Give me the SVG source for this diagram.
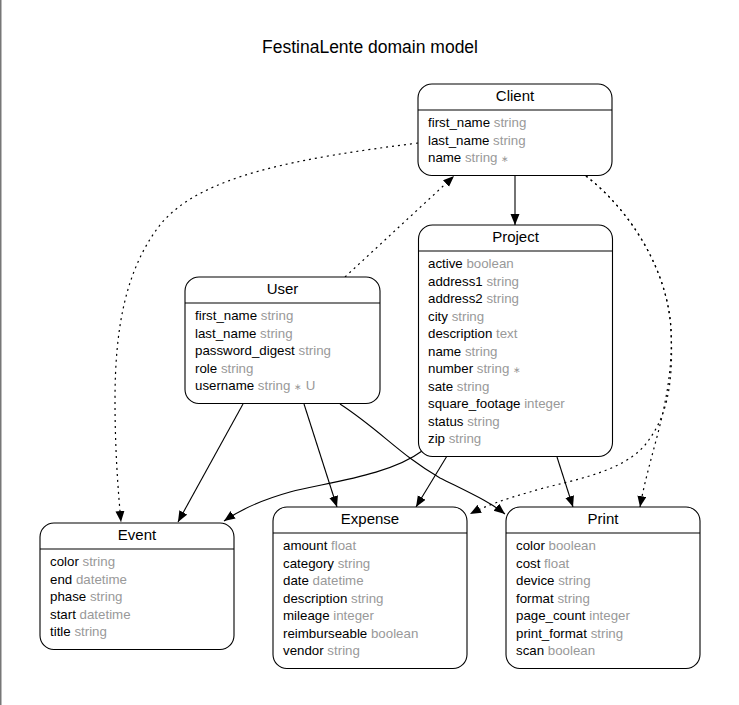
<svg xmlns="http://www.w3.org/2000/svg" width="739" height="705" viewBox="0 0 739 705">
<defs>
<style>
.box{fill:#fff;stroke:#000;stroke-width:1.1}
.hdr{stroke:#000;stroke-width:1.1}
.ttl{font-family:"Liberation Sans",Arial,sans-serif;font-size:15px;fill:#000;text-anchor:middle}
.f{font-family:"Liberation Sans",Arial,sans-serif;font-size:13.3px;fill:#000}
.t{fill:#999}
.s{font-size:9px}
.e{fill:none;stroke:#000;stroke-width:1.1}
.d{fill:none;stroke:#000;stroke-width:1.2;stroke-dasharray:2,4}
</style>
<marker id="a" markerUnits="userSpaceOnUse" markerWidth="12" markerHeight="10" refX="11" refY="4.5" orient="auto">
<path d="M0,0 L11,4.5 L0,9 z" fill="#000"/>
</marker>
</defs>
<rect width="739" height="705" fill="#fff"/>
<line x1="0.75" y1="0" x2="0.75" y2="705" stroke="#777" stroke-width="1.5"/>
<text x="370" y="53" font-family="Liberation Sans,Arial,sans-serif" font-size="17.5" text-anchor="middle" fill="#000">FestinaLente domain model</text>

<g id="connectors">
<path class="e" d="M515,176 L515,225" marker-end="url(#a)"/>
<path class="d" d="M418,143 C300,158 200,175 160,225 C125,270 115,330 115,400 C115,450 118,490 121,522" marker-end="url(#a)"/>
<path class="d" d="M345,277 L454,176" marker-end="url(#a)"/>
<path class="d" d="M586,176 C630,210 668,270 671,330 C674,400 650,450 640,507" marker-end="url(#a)"/>
<path class="d" d="M586,176 C630,210 668,270 671,330 C674,390 665,420 645,445 C620,475 560,482 530,492 C505,499 485,506 470,514" marker-end="url(#a)"/>
<path class="e" d="M243,404 L178,522" marker-end="url(#a)"/>
<path class="e" d="M422,451 C390,475 330,482 290,492 C265,499 240,510 224,521" marker-end="url(#a)"/>
<path class="e" d="M304,404 L337,507" marker-end="url(#a)"/>
<path class="e" d="M447,456 L416,507" marker-end="url(#a)"/>
<path class="e" d="M340,404 C380,430 400,455 440,478 C470,493 490,502 505,514" marker-end="url(#a)"/>
<path class="e" d="M557,457 L573,507" marker-end="url(#a)"/>
</g>

<g id="Client">
<rect class="box" x="418" y="84" width="194" height="91.5" rx="14"/>
<line class="hdr" x1="418" y1="110" x2="612" y2="110"/>
<text class="ttl" x="515" y="101">Client</text>
<text class="f" x="428" y="127">first_name <tspan class="t">string</tspan></text>
<text class="f" x="428" y="144.5">last_name <tspan class="t">string</tspan></text>
<text class="f" x="428" y="162">name <tspan class="t">string <tspan class="s">∗</tspan></tspan></text>
</g>

<g id="Project">
<rect class="box" x="418.5" y="225" width="194" height="231.5" rx="14"/>
<line class="hdr" x1="418.5" y1="251" x2="612.5" y2="251"/>
<text class="ttl" x="515.5" y="242">Project</text>
<text class="f" x="428" y="268">active <tspan class="t">boolean</tspan></text>
<text class="f" x="428" y="285.5">address1 <tspan class="t">string</tspan></text>
<text class="f" x="428" y="303">address2 <tspan class="t">string</tspan></text>
<text class="f" x="428" y="320.5">city <tspan class="t">string</tspan></text>
<text class="f" x="428" y="338">description <tspan class="t">text</tspan></text>
<text class="f" x="428" y="355.5">name <tspan class="t">string</tspan></text>
<text class="f" x="428" y="373">number <tspan class="t">string <tspan class="s">∗</tspan></tspan></text>
<text class="f" x="428" y="390.5">sate <tspan class="t">string</tspan></text>
<text class="f" x="428" y="408">square_footage <tspan class="t">integer</tspan></text>
<text class="f" x="428" y="425.5">status <tspan class="t">string</tspan></text>
<text class="f" x="428" y="443">zip <tspan class="t">string</tspan></text>
</g>

<g id="User">
<rect class="box" x="185" y="277" width="195" height="126.5" rx="14"/>
<line class="hdr" x1="185" y1="303" x2="380" y2="303"/>
<text class="ttl" x="282.5" y="294">User</text>
<text class="f" x="195" y="320">first_name <tspan class="t">string</tspan></text>
<text class="f" x="195" y="337.5">last_name <tspan class="t">string</tspan></text>
<text class="f" x="195" y="355">password_digest <tspan class="t">string</tspan></text>
<text class="f" x="195" y="372.5">role <tspan class="t">string</tspan></text>
<text class="f" x="195" y="390">username <tspan class="t">string <tspan class="s">∗</tspan> U</tspan></text>
</g>

<g id="Event">
<rect class="box" x="40" y="523" width="194" height="126.5" rx="14"/>
<line class="hdr" x1="40" y1="549" x2="234" y2="549"/>
<text class="ttl" x="137" y="540">Event</text>
<text class="f" x="50" y="566">color <tspan class="t">string</tspan></text>
<text class="f" x="50" y="583.5">end <tspan class="t">datetime</tspan></text>
<text class="f" x="50" y="601">phase <tspan class="t">string</tspan></text>
<text class="f" x="50" y="618.5">start <tspan class="t">datetime</tspan></text>
<text class="f" x="50" y="636">title <tspan class="t">string</tspan></text>
</g>

<g id="Expense">
<rect class="box" x="273" y="507" width="194" height="161.5" rx="14"/>
<line class="hdr" x1="273" y1="533" x2="467" y2="533"/>
<text class="ttl" x="370" y="524">Expense</text>
<text class="f" x="283" y="550">amount <tspan class="t">float</tspan></text>
<text class="f" x="283" y="567.5">category <tspan class="t">string</tspan></text>
<text class="f" x="283" y="585">date <tspan class="t">datetime</tspan></text>
<text class="f" x="283" y="602.5">description <tspan class="t">string</tspan></text>
<text class="f" x="283" y="620">mileage <tspan class="t">integer</tspan></text>
<text class="f" x="283" y="637.5">reimburseable <tspan class="t">boolean</tspan></text>
<text class="f" x="283" y="655">vendor <tspan class="t">string</tspan></text>
</g>

<g id="Print">
<rect class="box" x="506" y="507" width="194" height="161.5" rx="14"/>
<line class="hdr" x1="506" y1="533" x2="700" y2="533"/>
<text class="ttl" x="603" y="524">Print</text>
<text class="f" x="516" y="550">color <tspan class="t">boolean</tspan></text>
<text class="f" x="516" y="567.5">cost <tspan class="t">float</tspan></text>
<text class="f" x="516" y="585">device <tspan class="t">string</tspan></text>
<text class="f" x="516" y="602.5">format <tspan class="t">string</tspan></text>
<text class="f" x="516" y="620">page_count <tspan class="t">integer</tspan></text>
<text class="f" x="516" y="637.5">print_format <tspan class="t">string</tspan></text>
<text class="f" x="516" y="655">scan <tspan class="t">boolean</tspan></text>
</g>
</svg>
